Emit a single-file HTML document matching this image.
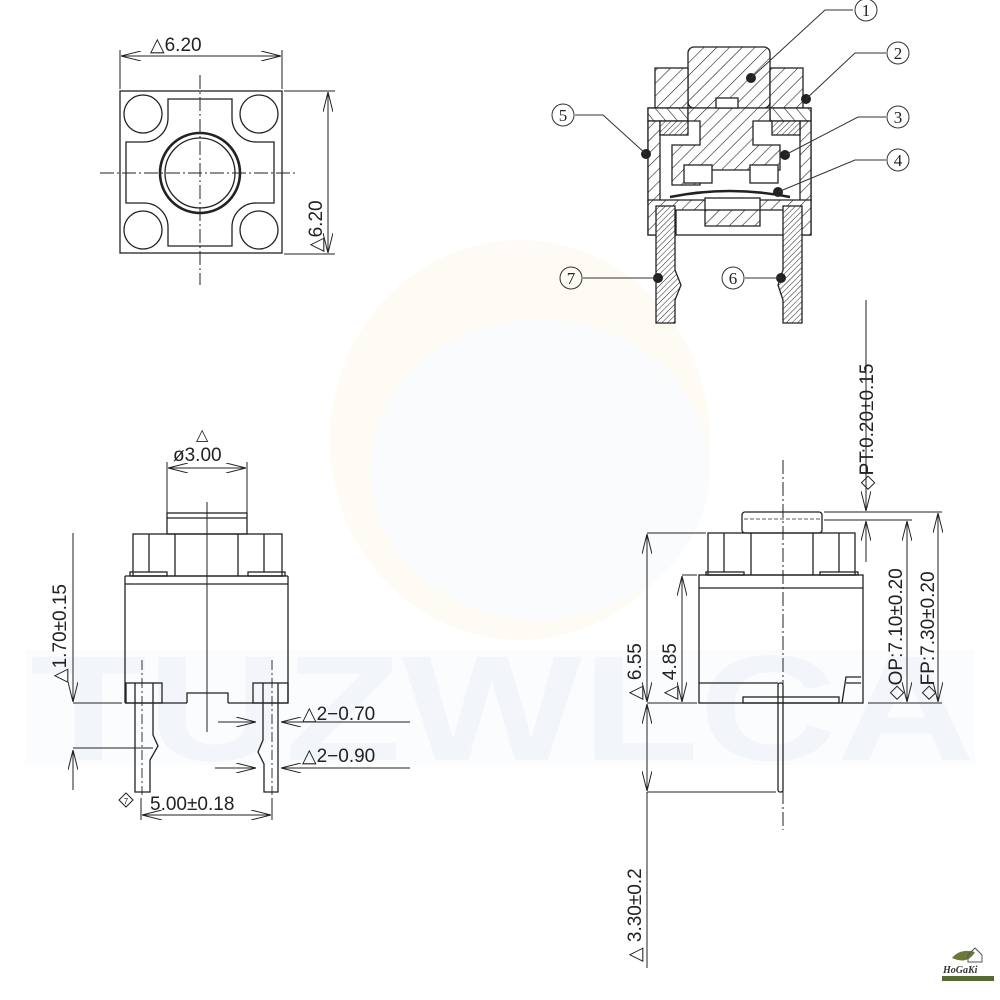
<!DOCTYPE html>
<html><head><meta charset="utf-8"><style>
html,body{margin:0;padding:0;background:#fff;}
svg{display:block;}
text{font-family:"Liberation Sans",sans-serif;fill:#222;}
</style></head><body>
<svg width="1000" height="1000" viewBox="0 0 1000 1000" xmlns="http://www.w3.org/2000/svg">
<defs>
<marker id="a" viewBox="0 0 20 10" refX="20" refY="5" markerWidth="20" markerHeight="10" markerUnits="userSpaceOnUse" orient="auto-start-reverse">
<path d="M0,0 L20,5 L0,10" fill="none" stroke="#222" stroke-width="1"/></marker>
<pattern id="h" width="9" height="9" patternUnits="userSpaceOnUse" patternTransform="rotate(45)">
<rect width="9" height="9" fill="#fff"/><line x1="0" y1="0" x2="0" y2="9" stroke="#222" stroke-width="1.2"/></pattern>
<pattern id="hs" width="4" height="4" patternUnits="userSpaceOnUse" patternTransform="rotate(45)">
<rect width="4" height="4" fill="#fff"/><line x1="0" y1="0" x2="0" y2="4" stroke="#222" stroke-width="1"/></pattern>
<pattern id="hr" width="9" height="9" patternUnits="userSpaceOnUse" patternTransform="rotate(-40)">
<rect width="9" height="9" fill="#fff"/><line x1="0" y1="0" x2="0" y2="9" stroke="#222" stroke-width="1.2"/></pattern>
</defs>

<!-- watermark -->
<g opacity="0.3">
<ellipse cx="520" cy="440" rx="190" ry="200" fill="#fdf3e0"/>
<ellipse cx="540" cy="470" rx="170" ry="150" fill="#eef4fb"/>
</g>
<rect x="25" y="650" width="950" height="115" fill="#fafcfe"/>
<text x="30" y="760" font-size="150" font-weight="bold" style="fill:#f2f6fa" textLength="945" lengthAdjust="spacingAndGlyphs">TUZWLCA</text>

<g fill="none" stroke="#222" stroke-width="1.3">
<!-- ===== TOP LEFT VIEW ===== -->
<rect x="120" y="91" width="162" height="162"/>
<circle cx="143" cy="114" r="19"/><circle cx="259" cy="114" r="19"/>
<circle cx="143" cy="230" r="19"/><circle cx="259" cy="230" r="19"/>
<path d="M168,99 H232 V118 A24,24 0 0 0 256,142 H274 V203 H256 A24,24 0 0 0 232,227 V246 H168 V227 A24,24 0 0 0 144,203 H126 V142 H144 A24,24 0 0 0 168,118 Z"/>
<circle cx="200" cy="173" r="40" stroke-width="2.6"/>
<circle cx="200" cy="173" r="35"/>
<line x1="100" y1="173" x2="298" y2="173" stroke-dasharray="14,3,2,3" stroke-width="1"/>
<line x1="200" y1="75" x2="200" y2="285" stroke-dasharray="14,3,2,3" stroke-width="1"/>
<line x1="120" y1="50" x2="120" y2="89" stroke-width="1"/>
<line x1="282" y1="50" x2="282" y2="89" stroke-width="1"/>
<line x1="121" y1="56" x2="281" y2="56" stroke-width="1" marker-start="url(#a)" marker-end="url(#a)"/>
<line x1="284" y1="91" x2="335" y2="91" stroke-width="1"/>
<line x1="284" y1="254" x2="335" y2="254" stroke-width="1"/>
<line x1="328" y1="92" x2="328" y2="253" stroke-width="1" marker-start="url(#a)" marker-end="url(#a)"/>

<!-- ===== TOP RIGHT SECTION ===== -->
<rect x="648" y="108" width="163" height="127" fill="#fff"/>
<rect x="688" y="47" width="82" height="61" rx="6" fill="url(#h)"/>
<rect x="655" y="68" width="33" height="40" fill="url(#h)"/>
<rect x="770" y="68" width="33" height="40" fill="url(#h)"/>
<rect x="648" y="108" width="40" height="13" fill="url(#hr)"/>
<rect x="770" y="108" width="41" height="13" fill="url(#hr)"/>
<rect x="648" y="121" width="12" height="80" fill="url(#h)"/>
<rect x="800" y="121" width="11" height="80" fill="url(#h)"/>
<path d="M688,108 H770 V121 H753 V145 H780 V170 H700 V185 H672 V145 H700 V121 H688 Z" fill="url(#h)"/>
<rect x="716" y="98" width="22" height="10" fill="#fff"/>
<rect x="660" y="121" width="28" height="14" fill="url(#hs)"/>
<rect x="772" y="121" width="28" height="14" fill="url(#hs)"/>
<rect x="684" y="165" width="28" height="18" fill="#fff"/>
<rect x="750" y="165" width="28" height="18" fill="#fff"/>
<path d="M670,197 Q730,185 790,197" stroke-width="2.5"/>
<path d="M648,200 H811 V235 H785 V210 H760 V226 H705 V210 H676 V235 H648 Z" fill="url(#h)"/>
<rect x="705" y="198" width="55" height="12" fill="#fff"/>
<path d="M656,206 H675 V270 L681,285 L675,300 V323 H656 Z" fill="url(#hs)"/>
<path d="M783,206 H802 V323 H783 V300 L778,285 L783,270 Z" fill="url(#hs)"/>
</g>
<!-- callout dots -->
<g fill="#222">
<circle cx="751" cy="78" r="5"/><circle cx="806" cy="99" r="5"/><circle cx="785" cy="155" r="5"/>
<circle cx="778" cy="192" r="5"/><circle cx="646" cy="154" r="5"/><circle cx="658" cy="278" r="5"/><circle cx="781" cy="278" r="5"/>
</g>
<g fill="none" stroke="#333" stroke-width="1">
<polyline points="751,78 825,10 853,10"/>
<polyline points="806,99 855,53 886,53"/>
<polyline points="785,155 858,117 886,117"/>
<polyline points="778,192 855,160 886,160"/>
<polyline points="646,154 603,115 575,115"/>
<line x1="583" y1="278" x2="658" y2="278"/>
<line x1="745" y1="278" x2="781" y2="278"/>
<circle cx="866" cy="10" r="11"/><circle cx="898" cy="53" r="11"/><circle cx="898" cy="117" r="11"/>
<circle cx="898" cy="160" r="11"/><circle cx="563" cy="115" r="11"/><circle cx="571" cy="278" r="11"/><circle cx="733" cy="278" r="11"/>
</g>
<g font-size="17" text-anchor="middle">
<text x="866" y="16" style="font-family:'Liberation Serif',serif">1</text>
<text x="898" y="59" style="font-family:'Liberation Serif',serif">2</text>
<text x="898" y="123" style="font-family:'Liberation Serif',serif">3</text>
<text x="898" y="166" style="font-family:'Liberation Serif',serif">4</text>
<text x="563" y="121" style="font-family:'Liberation Serif',serif">5</text>
<text x="571" y="284" style="font-family:'Liberation Serif',serif">7</text>
<text x="733" y="284" style="font-family:'Liberation Serif',serif">6</text>
</g>

<g fill="none" stroke="#222" stroke-width="1.3">
<!-- ===== BOTTOM LEFT VIEW ===== -->
<line x1="167" y1="462" x2="167" y2="534" stroke-width="1"/>
<line x1="247" y1="462" x2="247" y2="534" stroke-width="1"/>
<line x1="168" y1="468" x2="246" y2="468" stroke-width="1" marker-start="url(#a)" marker-end="url(#a)"/>
<rect x="167" y="513" width="80" height="21"/>
<line x1="167" y1="518" x2="247" y2="518"/>
<rect x="133" y="534" width="149" height="42"/>
<line x1="149" y1="534" x2="149" y2="572"/><line x1="175" y1="534" x2="175" y2="576"/>
<line x1="238" y1="534" x2="238" y2="576"/><line x1="264" y1="534" x2="264" y2="572"/>
<rect x="130" y="572" width="37" height="4"/><rect x="248" y="572" width="37" height="4"/>
<line x1="125" y1="576" x2="288" y2="576"/>
<line x1="125" y1="703" x2="187" y2="703"/><line x1="228" y1="703" x2="288" y2="703"/>
<path d="M187,703 V693 H228 V703"/>
<line x1="125" y1="576" x2="125" y2="703"/><line x1="288" y1="576" x2="288" y2="703"/>
<line x1="125" y1="584" x2="288" y2="584"/>
<rect x="126" y="683" width="36" height="20"/><rect x="253" y="683" width="35" height="20"/>
<path d="M135,683 V792 H150 V760 L158,746 L153,735 V683"/>
<path d="M278,683 V792 H264 V764 L258,752 L263,740 V683"/>
<line x1="142" y1="660" x2="142" y2="795" stroke-dasharray="10,3,2,3" stroke-width="0.9"/>
<line x1="272" y1="660" x2="272" y2="795" stroke-dasharray="10,3,2,3" stroke-width="0.9"/>
<line x1="207" y1="502" x2="207" y2="732" stroke-width="1"/>
<line x1="73" y1="533" x2="73" y2="702" stroke-width="1" marker-end="url(#a)"/>
<line x1="73" y1="703" x2="122" y2="703" stroke-width="1"/>
<line x1="73" y1="790" x2="73" y2="750" stroke-width="1" marker-end="url(#a)"/>
<line x1="73" y1="748" x2="153" y2="748" stroke-width="1"/>
<line x1="218" y1="722" x2="256" y2="722" stroke-width="1" marker-end="url(#a)"/>
<line x1="410" y1="722" x2="281" y2="722" stroke-width="1" marker-end="url(#a)"/>
<line x1="215" y1="768" x2="256" y2="768" stroke-width="1" marker-end="url(#a)"/>
<line x1="410" y1="768" x2="281" y2="768" stroke-width="1" marker-end="url(#a)"/>
<line x1="141" y1="798" x2="141" y2="820" stroke-width="1"/>
<line x1="272" y1="798" x2="272" y2="820" stroke-width="1"/>
<line x1="142" y1="815" x2="271" y2="815" stroke-width="1" marker-start="url(#a)" marker-end="url(#a)"/>
<path d="M126,793 L133,800 L126,807 L119,800 Z" stroke-width="1"/>

<!-- ===== BOTTOM RIGHT VIEW ===== -->
<rect x="742" y="512" width="80" height="21" rx="3"/>
<line x1="744" y1="519" x2="820" y2="519" stroke-dasharray="4,2" stroke-width="0.8"/>
<rect x="708" y="533" width="147" height="42"/>
<line x1="724" y1="533" x2="724" y2="572"/><line x1="751" y1="533" x2="751" y2="575"/>
<line x1="813" y1="533" x2="813" y2="575"/><line x1="839" y1="533" x2="839" y2="572"/>
<rect x="706" y="572" width="38" height="3"/><rect x="820" y="572" width="38" height="3"/>
<rect x="699" y="575" width="164" height="128"/>
<line x1="699" y1="588" x2="863" y2="588"/>
<line x1="699" y1="683" x2="778" y2="683"/>
<rect x="743" y="697" width="96" height="6"/>
<path d="M842,703 L846,677 H861 M846,683 H861"/>
<rect x="778" y="683" width="5" height="109" rx="2"/>
<line x1="783" y1="460" x2="783" y2="830" stroke-dasharray="14,3,2,3" stroke-width="1"/>
<line x1="647" y1="533" x2="706" y2="533" stroke-width="1"/>
<line x1="682" y1="575" x2="697" y2="575" stroke-width="1"/>
<line x1="647" y1="703" x2="697" y2="703" stroke-width="1"/>
<line x1="868" y1="703" x2="942" y2="703" stroke-width="1"/>
<line x1="647" y1="792" x2="776" y2="792" stroke-width="1"/>
<line x1="647" y1="534" x2="647" y2="702" stroke-width="1" marker-start="url(#a)" marker-end="url(#a)"/>
<line x1="682" y1="576" x2="682" y2="702" stroke-width="1" marker-start="url(#a)" marker-end="url(#a)"/>
<line x1="647" y1="704" x2="647" y2="791" stroke-width="1" marker-start="url(#a)" marker-end="url(#a)"/>
<line x1="647" y1="792" x2="647" y2="968" stroke-width="1"/>
<line x1="824" y1="512" x2="942" y2="512" stroke-width="1"/>
<line x1="824" y1="520" x2="912" y2="520" stroke-width="1"/>
<line x1="866" y1="300" x2="866" y2="511" stroke-width="1" marker-end="url(#a)"/>
<line x1="866" y1="562" x2="866" y2="521" stroke-width="1" marker-end="url(#a)"/>
<line x1="907" y1="521" x2="907" y2="702" stroke-width="1" marker-start="url(#a)" marker-end="url(#a)"/>
<line x1="938" y1="513" x2="938" y2="702" stroke-width="1" marker-start="url(#a)" marker-end="url(#a)"/>
</g>

<!-- texts -->
<g font-size="19">
<text x="150" y="51">△6.20</text>
<text transform="translate(322,252) rotate(-90)">△6.20</text>
<text x="196" y="440" font-size="16">△</text>
<text x="173" y="461">ø3.00</text>
<text transform="translate(66,683) rotate(-90)">△1.70±0.15</text>
<text x="302" y="720">△2−0.70</text>
<text x="302" y="762">△2−0.90</text>
<text x="150" y="810">5.00±0.18</text>
<text transform="translate(873,490) rotate(-90)">◇PT:0.20±0.15</text>
<text transform="translate(902,700) rotate(-90)">◇OP:7.10±0.20</text>
<text transform="translate(934,700) rotate(-90)">◇FP:7.30±0.20</text>
<text transform="translate(641,700) rotate(-90)">△ 6.55</text>
<text transform="translate(676,700) rotate(-90)">△ 4.85</text>
<text transform="translate(641,962) rotate(-90)">△ 3.30±0.2</text>
</g>
<text x="126" y="804" font-size="8" text-anchor="middle">7</text>

<!-- logo -->
<path d="M952,958 Q960,948 975,952 Q968,965 952,958 Z" fill="#6b7a3a"/>
<path d="M968,955 L975,948 L982,955 V962 H968 Z" fill="none" stroke="#555" stroke-width="1"/>
<text x="943" y="973" font-size="10" font-weight="bold" font-style="italic" style="font-family:'Liberation Serif',serif;fill:#333">HoGaKi</text>
<rect x="942" y="976" width="52" height="5" fill="#556b2f"/>
</svg>
</body></html>
